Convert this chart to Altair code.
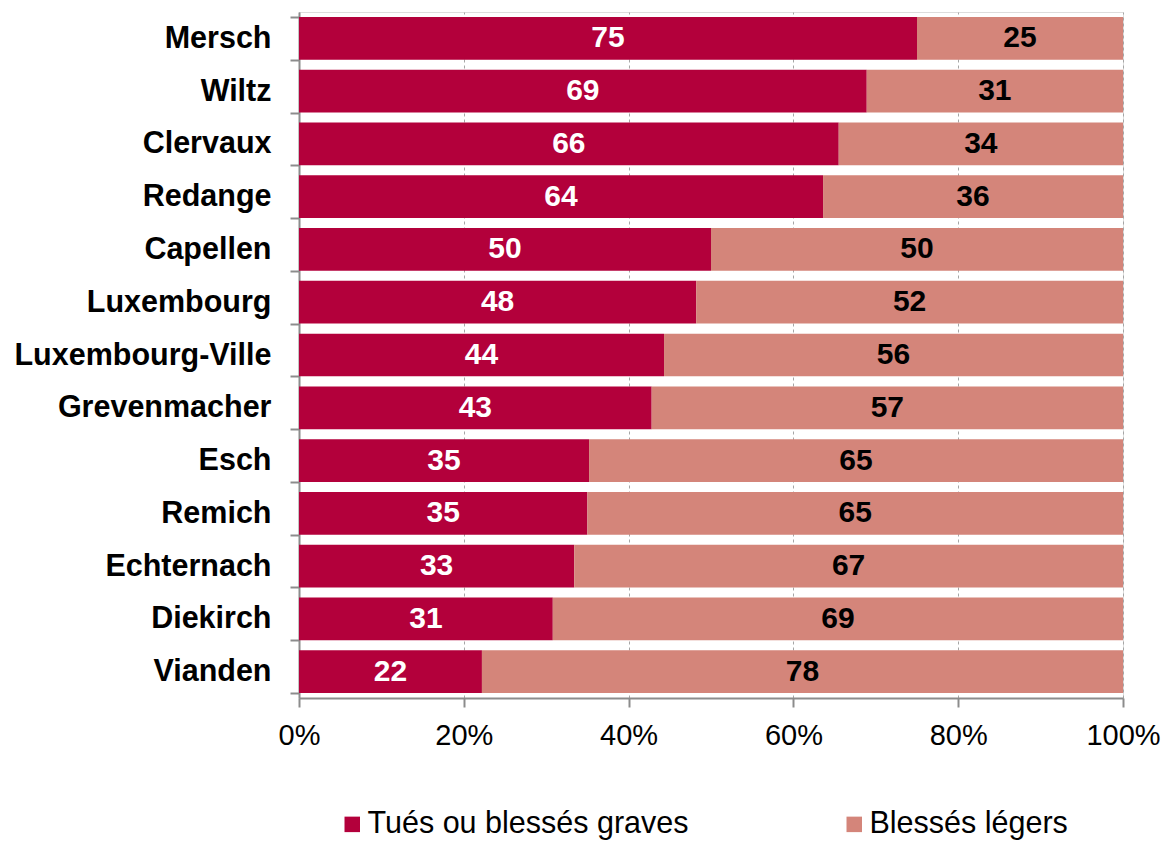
import altair as alt
import pandas as pd

categories = ["Mersch", "Wiltz", "Clervaux", "Redange", "Capellen", "Luxembourg",
              "Luxembourg-Ville", "Grevenmacher", "Esch", "Remich", "Echternach",
              "Diekirch", "Vianden"]
graves_share = [75.0, 68.9, 65.5, 63.6, 50.0, 48.2, 44.3, 42.8, 35.2, 35.0, 33.4, 30.8, 22.2]
legers_share = [25.0, 31.1, 34.5, 36.4, 50.0, 51.8, 55.7, 57.2, 64.8, 65.0, 66.6, 69.2, 77.8]
graves_label = [75, 69, 66, 64, 50, 48, 44, 43, 35, 35, 33, 31, 22]
legers_label = [25, 31, 34, 36, 50, 52, 56, 57, 65, 65, 67, 69, 78]
series = ["Tués ou blessés graves", "Blessés légers"]
colors = ["#B3003B", "#D4857A"]
text_colors = ["white", "black"]
x_ticks = [0, 0.2, 0.4, 0.6, 0.8, 1.0]

rows = []
for i, c in enumerate(categories):
    g = graves_share[i] / 100
    l = legers_share[i] / 100
    rows.append(dict(cat=c, serie=series[0], order=0, start=0.0, end=g,
                     mid=g / 2, label=str(graves_label[i]), tcol=text_colors[0]))
    rows.append(dict(cat=c, serie=series[1], order=1, start=g, end=g + l,
                     mid=g + l / 2, label=str(legers_label[i]), tcol=text_colors[1]))
df = pd.DataFrame(rows)

FONT = "Liberation Sans"

y_enc = alt.Y("cat:N", sort=categories,
              scale=alt.Scale(paddingInner=0.19, paddingOuter=0.095),
              axis=alt.Axis(title=None, labelFont=FONT, labelFontSize=30.5,
                            labelFontWeight="bold", labelColor="black",
                            labelPadding=19, labelLimit=400,
                            tickBand="extent", tickSize=9,
                            tickColor="#8c8c8c", tickWidth=2,
                            domainColor="#8c8c8c", domainWidth=2, grid=False))

x_scale = alt.Scale(domain=[0, 1], nice=False)

bars = alt.Chart(df).mark_bar().encode(
    y=y_enc,
    x=alt.X("start:Q", scale=x_scale,
            axis=alt.Axis(title=None, values=x_ticks, format=".0%",
                          labelFont=FONT, labelFontSize=29, labelColor="black",
                          labelPadding=14, labelFlush=False, tickSize=9,
                          tickColor="#8c8c8c",
                          tickWidth=2, domainColor="#8c8c8c", domainWidth=2,
                          grid=True, gridColor="#a6a6a6", gridDash=[3, 3],
                          gridWidth=1)),
    x2="end:Q",
    color=alt.Color("serie:N", sort=series,
                    scale=alt.Scale(domain=series, range=colors),
                    legend=alt.Legend(title=None, orient="none", direction="horizontal",
                                      legendX=38, legendY=797, padding=0,
                                      symbolType="square", symbolSize=240,
                                      symbolStrokeWidth=0, labelFont=FONT,
                                      labelFontSize=30.5, labelColor="black",
                                      labelOffset=0, columnPadding=150,
                                      labelLimit=500)),
    order=alt.Order("order:Q"),
)

texts = alt.Chart(df).mark_text(font=FONT, fontSize=30, fontWeight="bold",
                                baseline="middle", align="center").encode(
    y=alt.Y("cat:N", sort=categories),
    x=alt.X("mid:Q", scale=x_scale),
    text="label:N",
    color=alt.Color("tcol:N", scale=None, legend=None),
)

chart = alt.layer(bars, texts).properties(
    width=824, height=686,
    padding={"left": 291, "top": 4, "right": 38, "bottom": 145},
    autosize=alt.AutoSizeParams(type="none"),
).configure_view(stroke=None).configure(background="white")

chart.save("out.html", embed_options={"renderer": "svg", "actions": False})
